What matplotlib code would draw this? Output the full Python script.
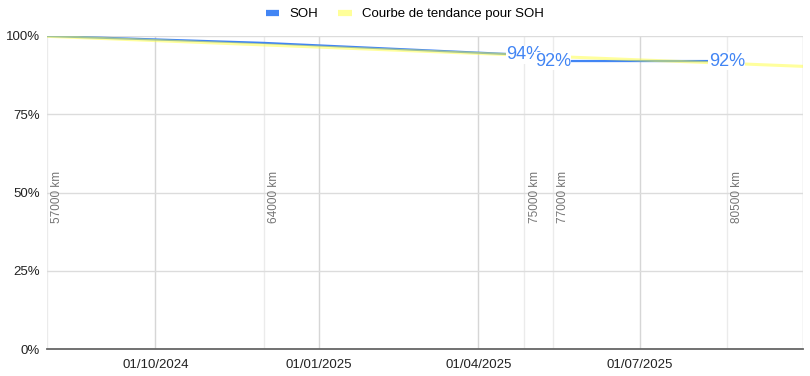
"""Courbe SOH de la batterie avec tendance linéaire."""

import matplotlib

matplotlib.use("Agg")

import matplotlib.dates as mdates
import matplotlib.pyplot as plt
import pandas as pd

# Relevés SOH
dates = ["2024-08-01", "2024-12-01", "2025-04-27", "2025-05-13", "2025-08-19"]
soh = [100.0, 97.8, 94.0, 92.0, 92.0]
km_labels = ["57000 km", "64000 km", "75000 km", "77000 km", "80500 km"]
value_labels = ["", "", "94%", "92%", "92%"]

# Courbe de tendance (extrémités lues)
trend_dates = ["2024-08-01", "2025-10-01"]
trend_values = [99.9, 90.3]

tick_dates = ["2024-10-01", "2025-01-01", "2025-04-01", "2025-07-01", "2025-10-01"]
tick_labels = ["01/10/2024", "01/01/2025", "01/04/2025", "01/07/2025", ""]
y_ticks = [0, 25, 50, 75, 100]

BLUE = "#4285F4"
YELLOW = "#ffff3c"

plt.rcParams["font.family"] = ["Liberation Sans", "DejaVu Sans"]

x = pd.to_datetime(dates)
x_trend = pd.to_datetime(trend_dates)

fig = plt.figure(figsize=(8.1, 3.76), dpi=100)
ax = fig.add_axes([47 / 810, 27 / 376, 756 / 810, 313 / 376])

# lignes verticales aux relevés
for d in x:
    ax.axvline(d, color="#ebebeb", linewidth=1, zorder=0)

ax.plot(x, soh, color=BLUE, linewidth=1.6, label="SOH", zorder=3,
        solid_capstyle="butt")
ax.plot(x_trend, trend_values, color=YELLOW, alpha=0.5, linewidth=2.2,
        label="Courbe de tendance pour SOH", zorder=4, solid_capstyle="butt")

for d, v, lab in zip(x, soh, value_labels):
    if lab:
        ax.text(d, v, lab, color=BLUE, fontsize=13, ha="center", va="center",
                zorder=6, bbox=dict(facecolor="white", edgecolor="none", pad=0.3))

for d, lab in zip(x, km_labels):
    ax.annotate(lab, xy=(d, 48.6), xytext=(3, 0), textcoords="offset points",
                rotation=90, ha="left", va="center", fontsize=8.5,
                color="#757575", zorder=5)

ax.set_xlim(x_trend[0], x_trend[1])
ax.set_ylim(0, 100)
ax.set_yticks(y_ticks)
ax.set_yticklabels([f"{v}%" for v in y_ticks])
ax.set_xticks(pd.to_datetime(tick_dates))
ax.set_xticklabels(tick_labels)
ax.xaxis.set_major_formatter(mdates.DateFormatter("%d/%m/%Y"))
ax.set_xticklabels(tick_labels)

ax.grid(True, axis="y", color="#dcdcdc", linewidth=1, zorder=0)
ax.grid(True, axis="x", color="#d6d6d6", linewidth=1, zorder=0)
ax.tick_params(axis="both", length=0, labelsize=9.5, colors="#222222")
ax.tick_params(axis="x", pad=7)
ax.tick_params(axis="y", pad=5)

for side in ["top", "right", "left"]:
    ax.spines[side].set_visible(False)
ax.spines["bottom"].set_color("#666666")
ax.spines["bottom"].set_linewidth(1.3)
ax.spines["bottom"].set_zorder(5)

leg = fig.legend(loc="upper center", bbox_to_anchor=(0.5, 1.01), ncol=2,
                 frameon=False, fontsize=9.5, handlelength=1.0,
                 handletextpad=0.8, columnspacing=1.5)
for line in leg.get_lines():
    line.set_linewidth(4.5)
    line.set_alpha(1)
leg.get_lines()[1].set_color("#ffff99")

fig.savefig("out.png", dpi=100)
